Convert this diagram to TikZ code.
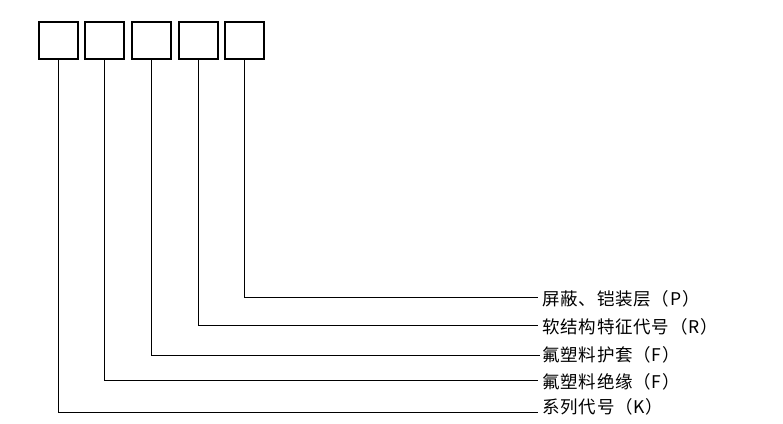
\documentclass[tikz,border=0pt]{standalone}
\usepackage{fontspec}
\setmainfont{Noto Sans CJK SC}
\newfontfamily\lblfont[LetterSpace=4.5]{Noto Sans CJK SC}
\begin{document}
\begin{tikzpicture}[x=1pt,y=-1pt,
  codebox/.style={draw,line width=2pt,minimum width=39pt,minimum height=37pt,inner sep=0pt},
  lbl/.style={anchor=west,inner sep=0pt,font=\lblfont\fontsize{17.5pt}{19pt}\selectfont},
  lead/.style={line width=1pt}]
\useasboundingbox (0,0) rectangle (783,423);
\node[codebox] (b1) at (58,40) {};
\node[codebox] (b2) at (104.5,40) {};
\node[codebox] (b3) at (151.5,40) {};
\node[codebox] (b4) at (198,40) {};
\node[codebox] (b5) at (244.5,40) {};
\node[lbl] (l5) at (542,299) {屏蔽、铠装层（P）};
\node[lbl] (l4) at (542,327) {软结构特征代号（R）};
\node[lbl] (l3) at (542,355) {氟塑料护套（F）};
\node[lbl] (l2) at (542,382) {氟塑料绝缘（F）};
\node[lbl] (l1) at (542,407) {系列代号（K）};
\coordinate (e5) at (538,297);
\coordinate (e4) at (538,325);
\coordinate (e3) at (540,355);
\coordinate (e2) at (538,380);
\coordinate (e1) at (538,412);
\draw[lead] (b5.south) |- (e5);
\draw[lead] (b4.south) |- (e4);
\draw[lead] (b3.south) |- (e3);
\draw[lead] (b2.south) |- (e2);
\draw[lead] (b1.south) |- (e1);
\end{tikzpicture}
\end{document}
